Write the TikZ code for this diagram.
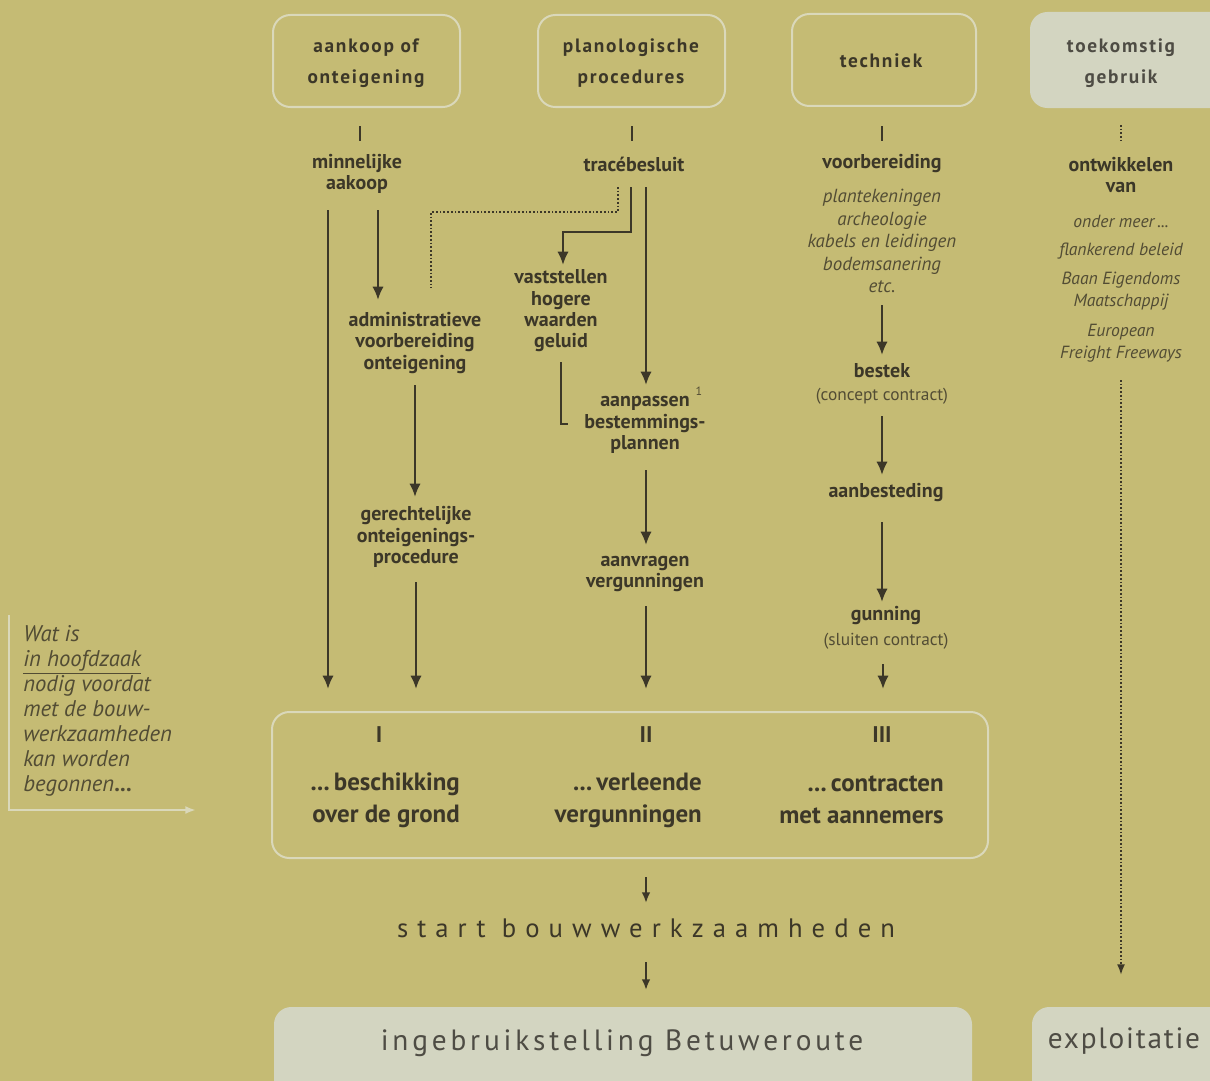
\documentclass[tikz,border=0pt]{standalone}
\usepackage{fontspec}
\setmainfont{PT Sans}
\usetikzlibrary{calc,arrows.meta}
\definecolor{bg}{RGB}{197,187,116}
\definecolor{ink}{RGB}{60,55,40}
\definecolor{ink2}{RGB}{82,76,52}
\definecolor{lightline}{RGB}{218,216,186}
\definecolor{lightfill}{RGB}{211,213,193}
\definecolor{greyink}{RGB}{78,76,68}
\begin{document}
\begin{tikzpicture}[x=0.75pt,y=-0.75pt,
  lbl/.style={font=\bfseries\fontsize{15}{16}\selectfont, text=ink, align=center, inner sep=0pt},
  itl/.style={font=\itshape\fontsize{14.2}{16.9}\selectfont, text=ink2, align=center, inner sep=0pt},
  itr/.style={font=\itshape\fontsize{13.2}{16.5}\selectfont, text=ink2, align=center, inner sep=0pt},
  sml/.style={font=\fontsize{13}{14}\selectfont, text=ink2, inner sep=0pt},
  hdr/.style={font=\bfseries\fontsize{14.5}{23.5}\selectfont\addfontfeatures{LetterSpace=9}, text=ink, align=center, inner sep=0pt},
  big/.style={font=\bfseries\fontsize{18.7}{24}\selectfont, text=ink, align=right, inner sep=0pt},
  roman/.style={font=\bfseries\fontsize{17}{18}\selectfont, text=ink, inner sep=0pt},
  framebox/.style={draw=lightline, line width=1.5pt, rounded corners=13pt, inner sep=0pt},
  fillbox/.style={fill=lightfill, rounded corners=13pt},
  arr/.style={draw=ink, line width=1.6pt, -{Latex[length=10pt,width=8.5pt]}},
  arrs/.style={draw=ink, line width=1.5pt, -{Latex[length=8pt,width=6.5pt]}},
  plain/.style={draw=ink, line width=1.6pt},
  dotl/.style={draw=ink, line width=1.4pt, dash pattern=on 1.3pt off 1.5pt},
  dotarr/.style={draw=ink, line width=1.4pt, dash pattern=on 1.3pt off 1.5pt, -{Latex[length=8pt,width=6pt]}},
  lightarr/.style={draw=lightline, line width=1.6pt, -{Latex[length=8pt,width=6pt]}}
]
\useasboundingbox (0,0) rectangle (1210,1081);
\clip (0,0) rectangle (1210,1081);
\fill[bg] (0,0) rectangle (1210,1081);

% top header boxes
\node[framebox, minimum width=140.25pt, minimum height=69pt] (boxA) at (366.5,61) {};
\node[hdr] (tA) at (366,63) {aankoop of\\onteigening};
\node[framebox, minimum width=140.25pt, minimum height=69pt] (boxB) at (631.5,61) {};
\node[hdr] (tB) at (631,63) {planologische\\procedures};
\node[framebox, minimum width=138pt, minimum height=69pt] (boxC) at (884,60) {};
\node[hdr] (tC) at (881,61) {techniek};
\fill[fillbox] (1030,12) rectangle (1260,108);
\node[hdr, text=greyink] (tD) at (1121,63) {toekomstig\\gebruik};

% column texts
\node[lbl] (mn) at (357,174) {minnelijke\\aakoop};
\node[lbl] (tr) at (634,164) {tracébesluit};
\node[lbl] (vb) at (882,164) {voorbereiding};
\node[itl] (vbl) at (882,241) {plantekeningen\\archeologie\\kabels en leidingen\\bodemsanering\\etc.};
\node[lbl] (ow) at (1121,175) {ontwikkelen\\van};
\node[itr] (om) at (1121,221) {onder meer\,...};
\node[itr] (fb) at (1121,251) {flankerend beleid};
\node[itr] (be) at (1121,291) {Baan Eigendoms\\Maatschappij};
\node[itr] (eff) at (1121,343) {European\\Freight Freeways};

\node[lbl] (adm) at (415,343) {administratieve\\voorbereiding\\onteigening};
\node[lbl] (vh) at (561,311) {vaststellen\\hogere\\waarden\\geluid};
\node[lbl] (ap) at (645,425) {aanpassen\\bestemmings-\\plannen};
\node[sml, font=\fontsize{9}{10}\selectfont] (sup) at (699,391) {1};
\node[lbl] (ger) at (416,537) {gerechtelijke\\onteigenings-\\procedure};
\node[lbl] (av) at (645,574) {aanvragen\\vergunningen};
\node[lbl] (bes) at (882,371) {bestek};
\node[sml] (cc) at (882,396) {(concept contract)};
\node[lbl] (aanb) at (886,493) {aanbesteding};
\node[lbl] (gun) at (886,616) {gunning};
\node[sml] (sc) at (886,641) {(sluiten contract)};

% conditions frame
\node[framebox, minimum width=537pt, minimum height=109.5pt] (frame) at (630,785) {};
\node[roman] (r1) at (379,735) {I};
\node[roman] (r2) at (646,735) {II};
\node[roman] (r3) at (882,735) {III};
\node[big, anchor=east] (g1) at (460,800) {...\,beschikking\\over de grond};
\node[big, anchor=east] (g2) at (702,800) {...\,verleende\\vergunningen};
\node[big, anchor=east] (g3) at (944,800) {...\,contracten\\met aannemers};

% left question
\node[font=\itshape\fontsize{17}{18.75}\selectfont, text=ink2, align=left, anchor=west, inner sep=0pt] (wat) at (23,711)
  {Wat is\\\underline{in hoofdzaak}\\nodig voordat\\met de bouw-\\werkzaamheden\\kan worden\\begonnen{\upshape\bfseries...}};

% bottom
\node[font=\fontsize{20}{22}\selectfont\addfontfeatures{LetterSpace=34}, text=ink, inner sep=0pt] (start) at (646,928) {start bouwwerkzaamheden};
\fill[fillbox] (274,1007) rectangle (972,1110);
\node[font=\fontsize{22}{24}\selectfont\addfontfeatures{LetterSpace=13}, text=greyink, inner sep=0pt] (ing) at (622,1043) {ingebruikstelling Betuweroute};
\fill[fillbox] (1032,1007) rectangle (1260,1110);
\node[font=\fontsize{22}{24}\selectfont\addfontfeatures{LetterSpace=6}, text=greyink, inner sep=0pt] (expl) at (1124,1041) {exploitatie};

% ticks under header boxes
\draw[plain] ($(boxA.south)+(-6.5,18)$) -- ($(mn)+(3,-33)$);
\draw[plain] ($(boxB.south)+(0.5,18)$) -- ($(tr)+(-2,-23)$);
\draw[plain] ($(boxC.south)+(-2,19)$) -- ($(vb)+(0,-23)$);
\draw[dotl] ($(tD)+(0,62)$) -- ($(ow)+(0,-34)$);

% connectors column 1
\draw[arr] ($(mn)+(-29,36)$) -- ($(frame.north)+(-302,-22)$);
\draw[arr] ($(mn)+(21,36)$) -- ($(adm)+(-37,-43)$);
\draw[dotl] ($(tr)+(-16,23)$) |- ($(tr)+(-203,48)$) -- ($(adm)+(16,-55)$);
\draw[arr] ($(adm)+(0,42)$) -- ($(ger)+(-1,-40)$);
\draw[arr] ($(ger)+(0,45)$) -- ($(frame.north)+(-214,-22)$);

% column 2
\draw[arr] ($(tr)+(-3,23)$) |- ($(vh)+(2,-79)$) -- ($(vh)+(2,-46)$);
\draw[arr] ($(tr)+(12,23)$) -- ($(ap)+(1,-40)$);
\draw[plain] ($(vh)+(0,51)$) |- ($(ap)+(-77,-1)$);
\draw[arr] ($(ap)+(1,45)$) -- ($(av)+(1,-29)$);
\draw[arr] ($(av)+(1,32)$) -- ($(frame.north)+(16,-22)$);

% column 3
\draw[arr] ($(vbl)+(0,64)$) -- ($(bes)+(0,-16)$);
\draw[arr] ($(cc)+(0,20)$) -- ($(aanb)+(-4,-18)$);
\draw[arr] ($(aanb)+(-4,29)$) -- ($(gun)+(-4,-14)$);
\draw[arr] ($(sc)+(-3,23)$) -- ($(frame.north)+(253,-22)$);

% column 4
\draw[dotarr] ($(eff)+(0,37)$) -- ($(expl)+(-3,-66)$);

% left arrow
\draw[lightarr] ($(wat.west)+(-14,-96)$) |- ($(frame.west)+(-75,25)$);

% bottom flow
\draw[arrs] ($(frame.south)+(16,18)$) -- ($(start)+(0,-25)$);
\draw[arrs] ($(start)+(0,34)$) -- ($(ing)+(24,-53)$);
\end{tikzpicture}
\end{document}
